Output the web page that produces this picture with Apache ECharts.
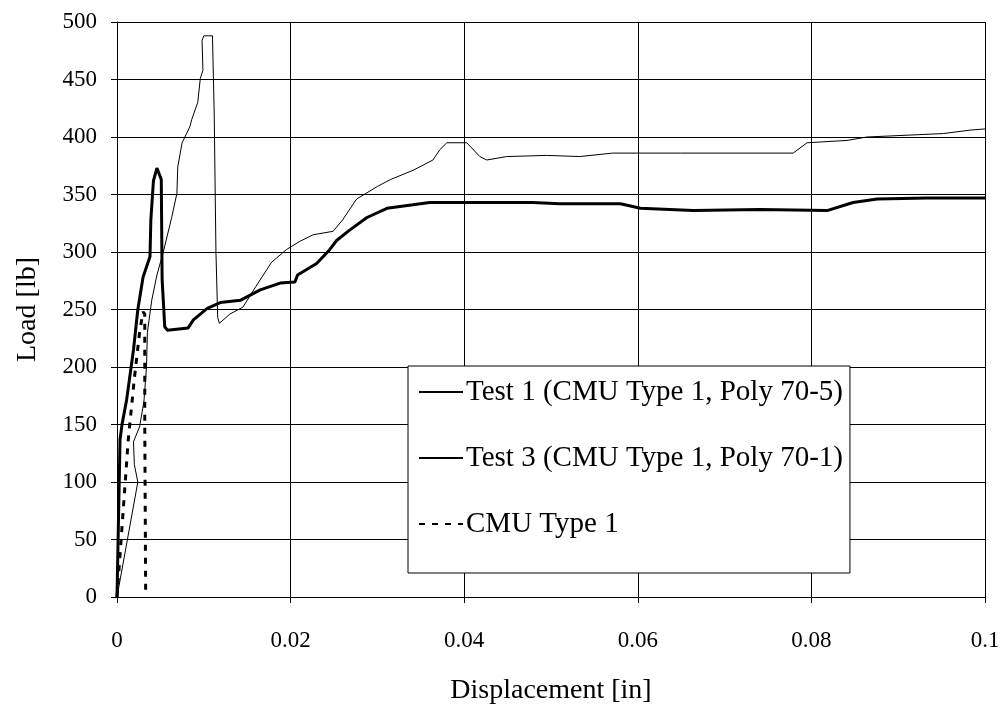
<!DOCTYPE html>
<html>
<head>
<meta charset="utf-8">
<script src="https://cdn.jsdelivr.net/npm/echarts@6/dist/echarts.min.js"></script>
<style>html,body{margin:0;padding:0;background:#fff;}#c{width:1006px;height:713px;}</style>
</head>
<body>
<div id="c"></div>
<script>
const seriesNames = ['Test 1 (CMU Type 1, Poly 70-5)', 'Test 3 (CMU Type 1, Poly 70-1)', 'CMU Type 1'];
const xTicks = [0, 0.02, 0.04, 0.06, 0.08, 0.1];
const yTicks = [0, 50, 100, 150, 200, 250, 300, 350, 400, 450, 500];

const test1 = [[0,0],[0.0012,50],[0.0024,100],[0.0020,115],[0.0019,135],[0.0026,148],[0.0031,170],[0.0034,200],[0.0035,230],[0.0040,258],[0.0046,280],[0.0053,299],[0.0063,330],[0.0069,351],[0.0070,374],[0.0075,395],[0.0084,409],[0.0086,415],[0.0093,430],[0.0096,451],[0.0099,458],[0.0098,484],[0.0100,488],[0.0110,488],[0.0112,420],[0.0114,300],[0.0116,243],[0.0118,238],[0.0130,246],[0.0145,252],[0.0160,270],[0.0178,291],[0.0195,302],[0.0210,309],[0.0226,315],[0.0249,318],[0.0260,328],[0.0276,346],[0.0300,357],[0.0315,363],[0.0341,371],[0.0364,380],[0.0372,389],[0.0380,395],[0.0403,395],[0.0418,383],[0.0426,380],[0.0449,383],[0.0495,384],[0.0533,383],[0.0571,386],[0.0649,386],[0.0779,386],[0.0795,395],[0.0841,397],[0.0864,400],[0.0952,403],[0.0983,406],[0.1,407]];

const test3 = [[0,0],[0.00035,137],[0.0006,151],[0.0011,171],[0.0019,215],[0.0024,250],[0.0030,278],[0.0038,296],[0.0039,328],[0.0042,362],[0.0046,373],[0.0051,363],[0.0052,276],[0.0055,235],[0.0058,232],[0.0082,234],[0.0088,241],[0.0104,251],[0.0119,256],[0.0142,258],[0.0165,267],[0.0188,273],[0.0205,274],[0.0208,280],[0.0230,290],[0.0245,302],[0.0253,310],[0.0268,319],[0.0288,330],[0.0311,338],[0.0341,341],[0.0360,343],[0.0479,343],[0.0510,342],[0.0580,342],[0.0603,338],[0.0664,336],[0.0741,337],[0.0818,336],[0.0848,343],[0.0876,346],[0.0933,347],[0.1,347]];

const cmu1 = [[0,0],[0.0013,137],[0.0020,190],[0.0026,230],[0.0030,248],[0.0032,246],[0.0032,150],[0.0033,6]];

const FONT = "'Liberation Serif', 'DejaVu Serif', serif";
const chart = echarts.init(document.getElementById('c'));
chart.setOption({
  animation: false,
  backgroundColor: '#fff',
  textStyle: { fontFamily: FONT, color: '#000' },
  grid: { left: 117, right: 21, top: 22, bottom: 116, containLabel: false },
  legend: {
    orient: 'vertical',
    left: 408, top: 366,
    padding: [11, 7, 34, 10],
    itemGap: 36,
    itemWidth: 44, itemHeight: 14,
    backgroundColor: '#fff',
    borderColor: '#000', borderWidth: 1,
    itemStyle: { opacity: 0 },
    textStyle: { fontFamily: FONT, fontSize: 29, color: '#000', lineHeight: 30, padding: [0,0,0,-2] },
    data: seriesNames
  },
  xAxis: {
    type: 'value', min: xTicks[0], max: xTicks[xTicks.length-1], interval: 0.02,
    name: 'Displacement [in]', nameLocation: 'middle', nameGap: 80,
    nameTextStyle: { fontFamily: FONT, fontSize: 28, color: '#000' },
    axisLine: { lineStyle: { color: '#000', width: 1 } },
    axisTick: { show: true, inside: false, length: 6, lineStyle: { color: '#000' } },
    axisLabel: { fontFamily: FONT, fontSize: 23, color: '#000', margin: 32,
      formatter: v => String(parseFloat(v.toFixed(2))) },
    splitLine: { show: true, lineStyle: { color: '#000', width: 1 } }
  },
  yAxis: {
    type: 'value', min: yTicks[0], max: yTicks[yTicks.length-1], interval: 50,
    name: 'Load [lb]', nameLocation: 'middle', nameGap: 75,
    nameTextStyle: { fontFamily: FONT, fontSize: 28, color: '#000' },
    axisLine: { show: true, lineStyle: { color: '#000', width: 1 } },
    axisTick: { show: true, inside: false, length: 6, lineStyle: { color: '#000' } },
    axisLabel: { fontFamily: FONT, fontSize: 23, color: '#000', margin: 20 },
    splitLine: { show: true, lineStyle: { color: '#000', width: 1 } }
  },
  series: [
    { name: seriesNames[0], type: 'line', data: test1, showSymbol: false, symbol: 'none',
      lineStyle: { color: '#000', width: 1 }, itemStyle: { color: '#000' }, z: 3 },
    { name: seriesNames[1], type: 'line', data: test3, showSymbol: false, symbol: 'none',
      lineStyle: { color: '#000', width: 3 }, itemStyle: { color: '#000' }, z: 4 },
    { name: seriesNames[2], type: 'line', data: cmu1, showSymbol: false, symbol: 'none',
      lineStyle: { color: '#000', width: 3, type: [6, 7] }, itemStyle: { color: '#000' }, z: 2 }
  ]
});
</script>
</body>
</html>
